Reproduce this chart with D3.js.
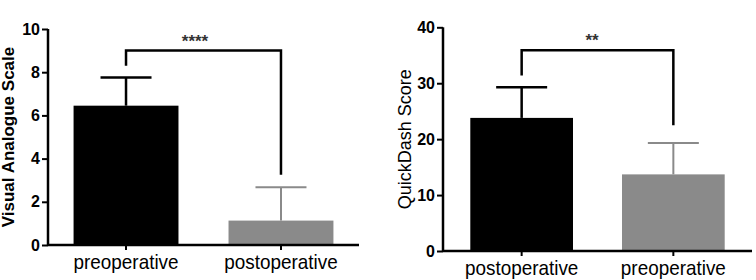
<!DOCTYPE html>
<html>
<head>
<meta charset="utf-8">
<script src="https://cdn.jsdelivr.net/npm/d3@7"></script>
<style>
  body { margin: 0; background: #fff; }
  svg { display: block; font-family: "Liberation Sans", Arial, sans-serif; }
</style>
</head>
<body>
<div id="canvas"></div>
<script>
"use strict";

// Panel A - Visual Analogue Scale
let vasCategories = ["preoperative", "postoperative"];
let vasMeans = [6.45, 1.13];
let vasSD = [1.3, 1.54];
let vasTicks = [0, 2, 4, 6, 8, 10];
let vasBracket = [8.3, 9.0, 3.25]; // left leg end, top, right leg end
let vasStars = "****";

// Panel B - QuickDash
let qdCategories = ["postoperative", "preoperative"];
let qdMeans = [23.8, 13.7];
let qdSD = [5.5, 5.6];
let qdTicks = [0, 10, 20, 30, 40];
let qdBracket = [31.4, 35.9, 22.5];
let qdStars = "**";

let barColors = ["#000000", "#8a8a8a"];

let svg = d3.select("#canvas")
  .append("svg")
  .attr("width", 756)
  .attr("height", 280);

function drawPanel(opt) {
  let g = svg.append("g");

  let x = d3.scaleBand()
    .domain(opt.categories)
    .range([opt.x0, opt.x1])
    .paddingInner(0.323)
    .paddingOuter(opt.padOuter);

  let y = d3.scaleLinear()
    .domain([0, opt.ticks[opt.ticks.length - 1]])
    .range([opt.y0, opt.y1]);

  // bars
  g.selectAll("rect.bar")
    .data(opt.categories)
    .enter()
    .append("rect")
    .attr("class", "bar")
    .attr("x", function(d) { return x(d); })
    .attr("y", function(d, i) { return y(opt.means[i]); })
    .attr("width", x.bandwidth())
    .attr("height", function(d, i) { return y(0) - y(opt.means[i]); })
    .attr("fill", function(d, i) { return barColors[i]; });

  // error bars (upper only)
  let capHalf = 25.5;
  opt.categories.forEach(function(c, i) {
    let cx = x(c) + x.bandwidth() / 2;
    let top = y(opt.means[i] + opt.sd[i]);
    let col = barColors[i];
    let w = i == 0 ? 2.5 : 2;
    g.append("line")
      .attr("x1", cx).attr("x2", cx)
      .attr("y1", y(opt.means[i])).attr("y2", top)
      .attr("stroke", col).attr("stroke-width", w);
    g.append("line")
      .attr("x1", cx - capHalf).attr("x2", cx + capHalf)
      .attr("y1", top).attr("y2", top)
      .attr("stroke", col).attr("stroke-width", w);
  });

  // axes
  let yAxis = g.append("g")
    .attr("transform", "translate(" + opt.x0 + ",0)")
    .call(d3.axisLeft(y).tickValues(opt.ticks).tickSize(6).tickPadding(2));
  yAxis.select(".domain").attr("stroke", "#000").attr("stroke-width", 2.5)
    .attr("d", "M0," + opt.y1 + "V" + opt.y0);
  yAxis.selectAll(".tick line").attr("stroke", "#000").attr("stroke-width", 2);
  yAxis.selectAll(".tick text")
    .style("font-size", "16px")
    .style("font-weight", "700")
    .attr("fill", "#000");

  let xAxis = g.append("g")
    .attr("transform", "translate(0," + opt.y0 + ")")
    .call(d3.axisBottom(x).tickSize(5).tickPadding(4));
  xAxis.select(".domain").attr("stroke", "#000").attr("stroke-width", 2.5)
    .attr("d", "M" + opt.x0 + ",0H" + opt.x1);
  xAxis.selectAll(".tick line").attr("stroke", "#000").attr("stroke-width", 2);
  xAxis.selectAll(".tick text")
    .style("font-size", "21px")
    .attr("transform", "scale(0.9,1)") // labels in the figure are a bit narrow
    .attr("fill", "#000");

  // y title
  g.append("text")
    .attr("transform", "translate(" + opt.titleX + "," + ((opt.y0 + opt.y1) / 2) + ") rotate(-90)")
    .attr("text-anchor", "middle")
    .style("font-size", opt.titleSize)
    .style("font-weight", opt.titleWeight)
    .text(opt.title);

  // significance bracket
  let lx = x(opt.categories[0]) + x.bandwidth() / 2;
  let rx = x(opt.categories[1]) + x.bandwidth() / 2;
  g.append("path")
    .attr("d", "M" + lx + "," + y(opt.bracket[0]) + "V" + y(opt.bracket[1]) +
      "H" + rx + "V" + y(opt.bracket[2]))
    .attr("fill", "none")
    .attr("stroke", "#000")
    .attr("stroke-width", 2.5);
  g.append("text")
    .attr("x", opt.starsX)
    .attr("y", y(opt.bracket[1]) - 4)
    .attr("text-anchor", "middle")
    .style("font-size", "17px")
    .style("font-weight", "700")
    .attr("fill", "#333")
    .text(opt.stars);
}

drawPanel({
  categories: vasCategories, means: vasMeans, sd: vasSD, ticks: vasTicks,
  bracket: vasBracket, stars: vasStars, starsX: 195,
  x0: 48, x1: 359, y0: 245, y1: 29, padOuter: 0.165,
  title: "Visual Analogue Scale", titleX: 14, titleSize: "17px", titleWeight: "700"
});

drawPanel({
  categories: qdCategories, means: qdMeans, sd: qdSD, ticks: qdTicks,
  bracket: qdBracket, stars: qdStars, starsX: 592,
  x0: 443, x1: 752, y0: 251, y1: 27.3, padOuter: 0.18,
  title: "QuickDash Score", titleX: 411, titleSize: "18px", titleWeight: "400"
});
</script>
</body>
</html>
